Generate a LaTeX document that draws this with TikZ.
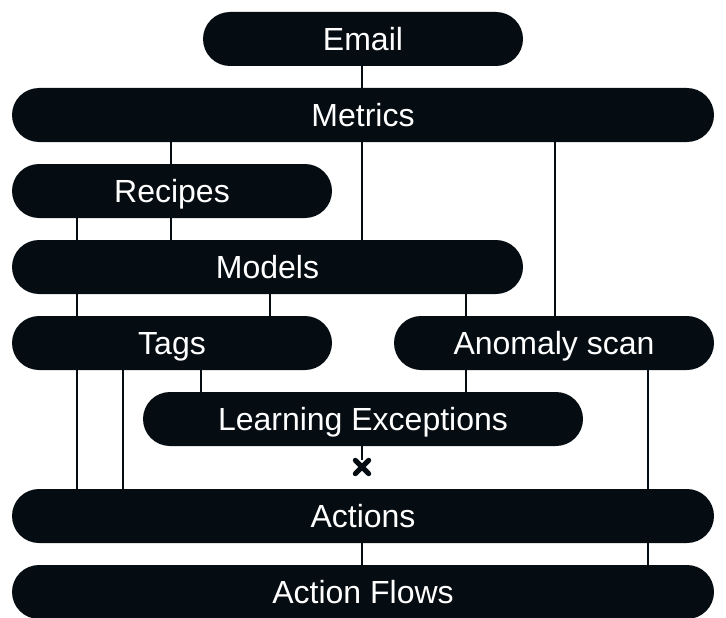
\documentclass[tikz,border=0pt]{standalone}
\usepackage{fontspec}
\setmainfont{Liberation Sans}
\definecolor{pillc}{HTML}{060D12}
\tikzset{
  pill/.style={fill=pillc, text=white, rounded corners=27pt, minimum height=54pt,
    inner sep=0pt, text height=23pt, text depth=0pt, font=\fontsize{32}{36}\selectfont},
  link/.style={draw=pillc, line width=1.5pt},
  xcross/.style={draw=pillc, line width=5pt, line cap=round}
}
\begin{document}
\begin{tikzpicture}[x=1pt,y=-1pt]
\useasboundingbox (0,0) rectangle (726,618);
% pills
\node[pill, minimum width=320pt] (email)   at (363,39)   {Email};
\node[pill, minimum width=702pt] (metrics) at (363,115)  {Metrics};
\node[pill, minimum width=320pt] (recipes) at (172,191)  {Recipes};
\node[pill, minimum width=511pt] (models)  at (267.5,267) {Models};
\node[pill, minimum width=320pt] (tags)    at (172,343)  {Tags};
\node[pill, minimum width=320pt] (anomaly) at (554,343)  {Anomaly scan};
\node[pill, minimum width=440pt] (learn)   at (363,419)  {Learning Exceptions};
\node[pill, minimum width=702pt] (actions) at (363,516)  {Actions};
\node[pill, minimum width=702pt] (flows)   at (363,592)  {Action Flows};
\node[minimum size=13pt, inner sep=0pt] (xm) at (362,467) {};
% x positions
\coordinate (c77) at (77,0);
\coordinate (c123) at (123,0);
\coordinate (c171) at (171,0);
\coordinate (c201) at (201,0);
\coordinate (c270) at (270,0);
\coordinate (c362) at (362,0);
\coordinate (c466) at (466,0);
\coordinate (c555) at (555,0);
\coordinate (c648) at (648,0);
% links
\draw[link] (email.south -| c362) -- (metrics.north -| c362);
\draw[link] (metrics.south -| c171) -- (recipes.north -| c171);
\draw[link] (metrics.south -| c362) -- (models.north -| c362);
\draw[link] (metrics.south -| c555) -- (anomaly.north -| c555);
\draw[link] (recipes.south -| c77) -- (models.north -| c77);
\draw[link] (recipes.south -| c171) -- (models.north -| c171);
\draw[link] (models.south -| c77) -- (tags.north -| c77);
\draw[link] (models.south -| c270) -- (tags.north -| c270);
\draw[link] (models.south -| c466) -- (anomaly.north -| c466);
\draw[link] (tags.south -| c201) -- (learn.north -| c201);
\draw[link] (anomaly.south -| c466) -- (learn.north -| c466);
\draw[link] (tags.south -| c77) -- (actions.north -| c77);
\draw[link] (tags.south -| c123) -- (actions.north -| c123);
\draw[link] (anomaly.south -| c648) -- (actions.north -| c648);
\draw[link] (learn.south -| c362) -- (xm.north);
\draw[link] (actions.south -| c362) -- (flows.north -| c362);
\draw[link] (actions.south -| c648) -- (flows.north -| c648);
% cross
\draw[xcross] (xm.north west) -- (xm.south east);
\draw[xcross] (xm.north east) -- (xm.south west);
\end{tikzpicture}
\end{document}
